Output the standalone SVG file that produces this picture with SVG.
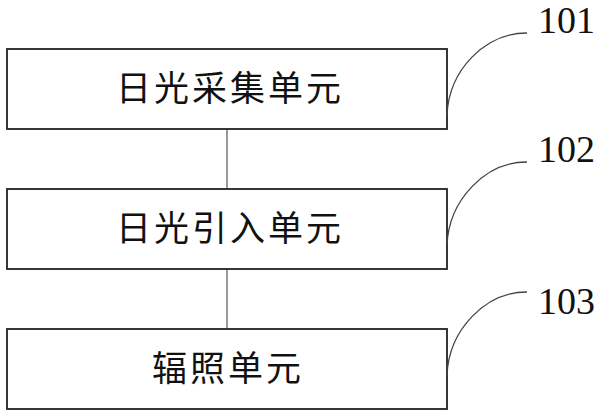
<svg xmlns="http://www.w3.org/2000/svg" width="600" height="417" viewBox="0 0 600 417">
<style>
.box{fill:#fff;stroke:#222;stroke-width:1.8}
.lbl{font-family:"Noto Sans CJK SC","Noto Sans CJK JP",sans-serif;font-size:35px;fill:#111;text-anchor:middle;letter-spacing:3px}
.num{font-family:"Liberation Serif",serif;font-size:38px;fill:#111}
.con{stroke:#555;stroke-width:1.2;fill:none}
.lead{stroke:#444;stroke-width:1.3;fill:none}
</style>
<rect width="600" height="417" fill="#fff"/>
<g id="connectors">
<line class="con" x1="227" y1="129" x2="227" y2="189"/>
<line class="con" x1="227" y1="269" x2="227" y2="329"/>
</g>
<g id="n101">
<rect class="box" x="7" y="49" width="440" height="80"/>
<text class="lbl" x="230" y="101">日光采集单元</text>
<path class="lead" d="M447,115 C449,70 485,33 527,33"/>
<text class="num" x="538" y="33">101</text>
</g>
<g id="n102">
<rect class="box" x="7" y="189" width="440" height="80"/>
<text class="lbl" x="230" y="241">日光引入单元</text>
<path class="lead" d="M447,245 C449,200 485,162 527,162"/>
<text class="num" x="538" y="162">102</text>
</g>
<g id="n103">
<rect class="box" x="7" y="329" width="440" height="80"/>
<text class="lbl" x="228" y="381">辐照单元</text>
<path class="lead" d="M447,375 C449,330 485,292 527,292"/>
<text class="num" x="538" y="314">103</text>
</g>
</svg>
